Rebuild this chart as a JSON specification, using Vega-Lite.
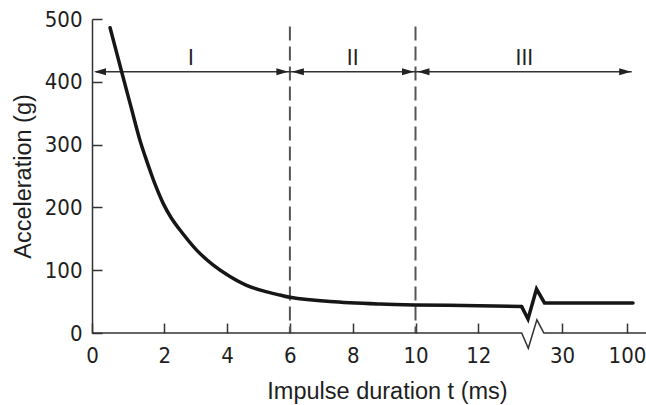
{
  "$schema": "https://vega.github.io/schema/vega-lite/v6.json",
  "width": 554,
  "height": 314,
  "autosize": {"type": "none"},
  "padding": {"left": 92, "top": 19, "right": 0, "bottom": 72},
  "background": "white",
  "config": {"view": {"stroke": null}},
  "datasets": {
    "curve": [
      {"t": 0.5, "v": 486, "part": "smooth"},
      {"t": 0.82, "v": 416, "part": "smooth"},
      {"t": 1.079, "v": 360, "part": "smooth"},
      {"t": 1.328, "v": 306.5, "part": "smooth"},
      {"t": 1.466, "v": 282, "part": "smooth"},
      {"t": 1.604, "v": 259, "part": "smooth"},
      {"t": 1.743, "v": 237, "part": "smooth"},
      {"t": 1.972, "v": 206, "part": "smooth"},
      {"t": 2.213, "v": 184, "part": "smooth"},
      {"t": 2.5, "v": 164, "part": "smooth"},
      {"t": 3.03, "v": 132, "part": "smooth"},
      {"t": 3.56, "v": 108, "part": "smooth"},
      {"t": 4.09, "v": 90, "part": "smooth"},
      {"t": 4.62, "v": 76, "part": "smooth"},
      {"t": 5.15, "v": 67, "part": "smooth"},
      {"t": 5.68, "v": 60.5, "part": "smooth"},
      {"t": 6.0, "v": 57, "part": "smooth"},
      {"t": 7.28, "v": 50, "part": "smooth"},
      {"t": 8.87, "v": 46, "part": "smooth"},
      {"t": 9.98, "v": 44.6, "part": "smooth"},
      {"t": 12.05, "v": 43.5, "part": "smooth"},
      {"t": 21.33, "v": 42, "part": "smooth"},
      {"t": 21.33, "v": 42, "part": "break"},
      {"t": 22.69, "v": 22.3, "part": "break"},
      {"t": 24.52, "v": 70, "part": "break"},
      {"t": 26.24, "v": 47.8, "part": "break"},
      {"t": 106.3, "v": 47.8, "part": "break"}
    ],
    "axisline": [
      {"t": 0, "v": 0},
      {"t": 21.33, "v": 0},
      {"t": 22.75, "v": -24.4},
      {"t": 24.6, "v": 21},
      {"t": 26.1, "v": 0},
      {"t": 120, "v": 0}
    ],
    "bounds": [{"t": 6}, {"t": 10}],
    "span": [{"t": 0.1, "t2": 105}],
    "heads": [
      {"t": 0, "dir": "left"},
      {"t": 6, "dir": "right"},
      {"t": 6, "dir": "left"},
      {"t": 10, "dir": "right"},
      {"t": 10, "dir": "left"},
      {"t": 106, "dir": "right"}
    ],
    "regions": [
      {"t": 2.85, "v": 427, "label": "I"},
      {"t": 8, "v": 427, "label": "II"},
      {"t": 21.9, "v": 427, "label": "III"}
    ]
  },
  "encoding": {
    "x": {
      "field": "t",
      "type": "quantitative",
      "scale": {"domain": [0, 2, 12, 30, 100, 120], "range": [0, 72.3, 386.3, 470, 535, 554], "nice": false, "zero": false},
      "axis": {
        "values": [0, 2, 4, 6, 8, 10, 12, 30, 100],
        "format": "d",
        "domain": false,
        "grid": false,
        "tickSize": -10,
        "tickWidth": 1.5,
        "tickColor": "#333333",
        "labelPadding": 22,
        "labelFont": "DejaVu Sans Condensed, sans-serif",
        "labelFontSize": 22,
        "labelColor": "#1e1e1e",
        "labelFlush": false,
        "labelOverlap": false,
        "title": "Impulse duration t (ms)",
        "titleFont": "Liberation Sans, Arial, sans-serif",
        "titleFontSize": 23.5,
        "titleFontWeight": "normal",
        "titleColor": "#1e1e1e",
        "titlePadding": 13,
        "titleX": 295
      }
    }
  },
  "layer": [
    {
      "data": {"name": "bounds"},
      "mark": {"type": "rule", "color": "#555555", "strokeWidth": 2, "strokeDash": [14, 6]},
      "encoding": {"y": {"datum": 488}, "y2": {"datum": 0}}
    },
    {
      "data": {"name": "span"},
      "mark": {"type": "rule", "color": "#333333", "strokeWidth": 1.5},
      "encoding": {"x2": {"field": "t2"}, "y": {"datum": 416}}
    },
    {
      "data": {"name": "heads"},
      "mark": {"type": "point", "filled": true, "size": 400, "color": "#222222", "opacity": 1, "strokeWidth": 0},
      "encoding": {
        "y": {"datum": 416},
        "shape": {
          "field": "dir",
          "type": "nominal",
          "scale": {"domain": ["left", "right"], "range": ["M0.2,0L1.4,-0.35L1.4,0.35Z", "M-0.15,0L-1.35,-0.35L-1.35,0.35Z"]},
          "legend": null
        }
      }
    },
    {
      "encoding": {
        "y": {
          "field": "v",
          "type": "quantitative",
          "scale": {"domain": [0, 500], "nice": false},
          "axis": {
            "values": [0, 100, 200, 300, 400, 500],
            "domain": true,
            "domainColor": "#333333",
            "domainWidth": 1.5,
            "grid": false,
            "tickSize": -10,
            "tickWidth": 1.5,
            "tickColor": "#333333",
            "labelPadding": 20,
            "labelFont": "DejaVu Sans Condensed, sans-serif",
            "labelFontSize": 22,
            "labelColor": "#1e1e1e",
            "labelFlush": false,
            "labelOverlap": false,
            "title": "Acceleration (g)",
            "titleFont": "Liberation Sans, Arial, sans-serif",
            "titleFontSize": 23.5,
            "titleFontWeight": "normal",
            "titleColor": "#1e1e1e",
            "titlePadding": 9
          }
        }
      },
      "layer": [
        {
          "data": {"name": "axisline"},
          "mark": {"type": "line", "color": "#333333", "strokeWidth": 1.5, "clip": false},
          "encoding": {}
        },
        {
          "data": {"name": "curve"},
          "transform": [{"filter": "datum.part === 'smooth'"}],
          "mark": {"type": "line", "interpolate": "catmull-rom", "color": "#161616", "strokeWidth": 3.5, "strokeCap": "round"},
          "encoding": {}
        },
        {
          "data": {"name": "curve"},
          "transform": [{"filter": "datum.part === 'break'"}],
          "mark": {"type": "line", "color": "#161616", "strokeWidth": 3.5, "strokeCap": "round", "strokeJoin": "miter"},
          "encoding": {}
        },
        {
          "data": {"name": "regions"},
          "mark": {"type": "text", "font": "DejaVu Sans Condensed, sans-serif", "fontSize": 22, "baseline": "alphabetic", "align": "center", "color": "#1e1e1e"},
          "encoding": {"text": {"field": "label"}}
        }
      ]
    }
  ]
}
